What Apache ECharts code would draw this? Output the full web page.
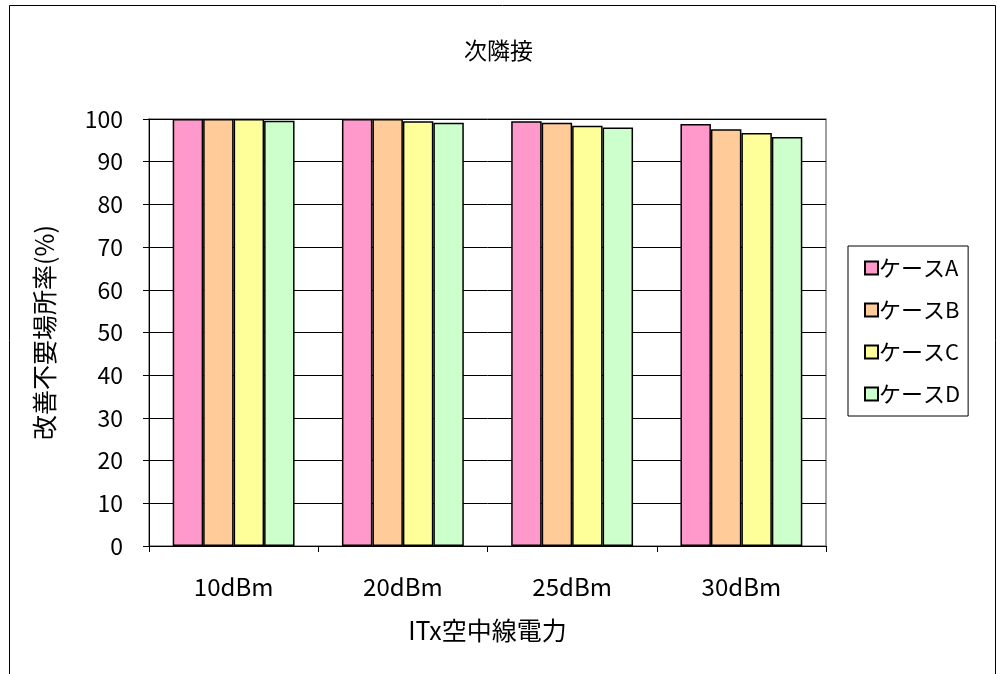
<!DOCTYPE html>
<html><head><meta charset="utf-8">
<script src="https://cdn.jsdelivr.net/npm/echarts@6/dist/echarts.min.js"></script>
<style>html,body{margin:0;padding:0;background:#fff}#c{width:997px;height:674px}</style>
</head><body><div id="c"></div>
<script>
const categories = ['10dBm','20dBm','25dBm','30dBm'];
const seriesNames = ['ケースA','ケースB','ケースC','ケースD'];
const caseA = [100, 100, 99.5, 98.8];
const caseB = [100, 100, 99.1, 97.6];
const caseC = [100, 99.5, 98.4, 96.7];
const caseD = [99.6, 99.1, 98.0, 95.8];
const colors = ['#FF99CC','#FFCC99','#FFFF99','#CCFFCC'];
const values = [caseA, caseB, caseC, caseD];
const font = '"Noto Sans CJK JP", "Noto Sans", sans-serif';
const chart = echarts.init(document.getElementById('c'));
chart.setOption({
  animation:false,
  title:{text:'次隣接', left:'center', top:34, textStyle:{fontFamily:font, fontSize:23, fontWeight:'normal', color:'#000'}},
  legend:{
    orient:'vertical', left:848, top:246, width:128, height:174,
    padding:[11,8,11,16], itemGap:20, itemWidth:13, itemHeight:13,
    borderColor:'#000', borderWidth:1,
    icon:'rect',
    textStyle:{fontFamily:font, fontSize:22, color:'#000', padding:[0,0,0,-4]},
    data: seriesNames
  },
  grid:{left:149, top:119, width:677, height:427, containLabel:false},
  xAxis:{
    type:'category', data:categories,
    name:'ITx空中線電力', nameLocation:'middle', nameGap:72,
    nameTextStyle:{fontFamily:font, fontSize:25, color:'#000'},
    axisLine:{lineStyle:{color:'#000', width:1}},
    axisTick:{show:true, length:6, lineStyle:{color:'#000'}},
    axisLabel:{fontFamily:font, fontSize:24, color:'#000', margin:29},
    splitLine:{show:false}
  },
  yAxis:{
    type:'value', min:0, max:100, interval:10,
    name:'改善不要場所率(%)', nameLocation:'middle', nameGap:92,
    nameTextStyle:{fontFamily:font, fontSize:25, color:'#000'},
    axisLine:{show:true, lineStyle:{color:'#000', width:1}},
    axisTick:{show:true, length:6, lineStyle:{color:'#000'}},
    axisLabel:{fontFamily:font, fontSize:23, color:'#000', margin:26},
    splitLine:{show:true, lineStyle:{color:'#000', width:1}}
  },
  graphic:[
    {type:'rect', shape:{x:9.5, y:5.5, width:986, height:700}, style:{fill:'none', stroke:'#000', lineWidth:1}, silent:true},
    {type:'rect', shape:{x:149, y:119, width:677, height:427}, style:{fill:'none', stroke:'#808080', lineWidth:1.5}, silent:true, z:-1}
  ],
  series: seriesNames.map((n,i)=>({
    name:n, type:'bar', data:values[i], barGap:'0%', barCategoryGap:'28%',
    itemStyle:{color:colors[i], borderColor:'#000', borderWidth:1.5}
  }))
});
</script></body></html>
